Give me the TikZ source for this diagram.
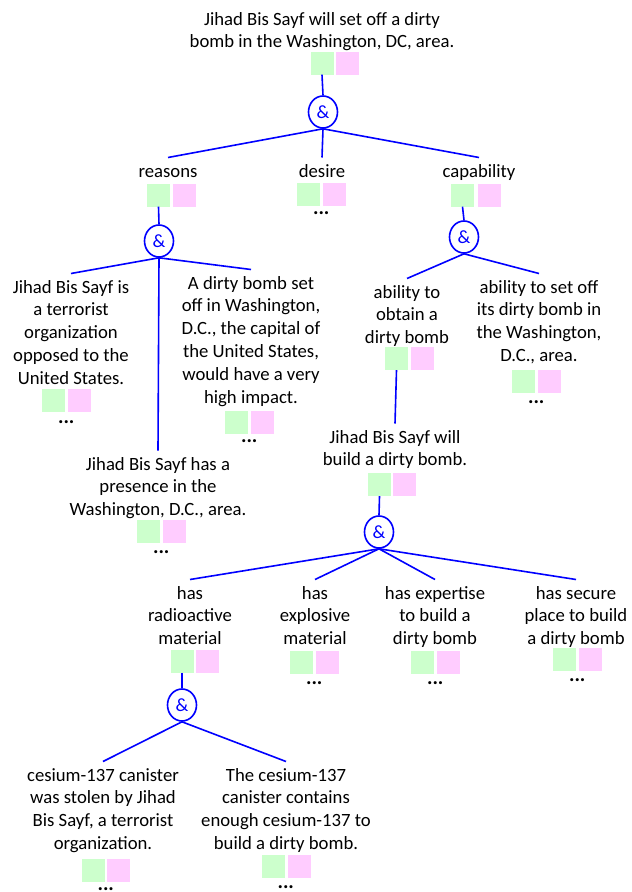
\documentclass[tikz,border=0pt]{standalone}
\usepackage{fontspec}
\setmainfont{Carlito}
\usetikzlibrary{shapes.geometric}
\newcommand\tfs{\fontsize{18.7}{22.8}\selectfont}
\newcommand\dfs{\fontsize{20.5}{22.8}\selectfont}
\definecolor{boxgreen}{RGB}{204,255,204}
\definecolor{boxpink}{RGB}{255,204,255}
\newcommand\mkpair[4]{\node[gbox] (#1G) at (#2,#4) {}; \node[pbox] (#1P) at (#3,#4) {};}
\begin{document}
\begin{tikzpicture}[x=1pt,y=-1pt,
  txt/.style={align=center, anchor=north, inner xsep=0pt, inner ysep=3.5pt, font=\tfs, text=black},
  gbox/.style={fill=boxgreen, minimum width=23pt, minimum height=23pt, inner sep=0pt},
  pbox/.style={fill=boxpink, minimum width=23pt, minimum height=23pt, inner sep=0pt},
  andnode/.style={ellipse, draw=blue, line width=1.6pt, fill=white, text=blue, font=\tfs, minimum width=29pt, minimum height=32pt, inner sep=0pt},
  dotsnode/.style={anchor=base, font=\dfs\bfseries, inner sep=0pt},
  conn/.style={draw=blue, line width=1.6pt}]
\useasboundingbox (0,0) rectangle (632,892);
% text nodes
\node[txt] (top) at (322,5.5) {\strut Jihad Bis Sayf will set off a dirty\\bomb in the Washington, DC, area.};
\node[txt] (reasons) at (168,157.5) {\strut reasons};
\node[txt] (desire) at (322,157.5) {\strut desire};
\node[txt] (capability) at (479,157.5) {\strut capability};
\node[txt] (r1) at (71,273.5) {\strut Jihad Bis Sayf is\\a terrorist\\organization\\opposed to the\\United States.};
\node[txt] (r2) at (251,269.5) {\strut A dirty bomb set\\off in Washington,\\D.C., the capital of\\the United States,\\would have a very\\high impact.};
\node[txt] (r3) at (158,450.5) {\strut Jihad Bis Sayf has a\\presence in the\\Washington, D.C., area.};
\node[txt] (c1) at (407,278.5) {\strut ability to\\obtain a\\dirty bomb};
\node[txt] (c2) at (539,273.5) {\strut ability to set off\\its dirty bomb in\\the Washington,\\D.C., area.};
\node[txt] (build) at (395,423.5) {\strut Jihad Bis Sayf will\\build a dirty bomb.};
\node[txt] (h1) at (190,579.5) {\strut has\\radioactive\\material};
\node[txt] (h2) at (315,579.5) {\strut has\\explosive\\material};
\node[txt] (h3) at (435,579.5) {\strut has expertise\\to build a\\dirty bomb};
\node[txt] (h4) at (576,579.5) {\strut has secure\\place to build\\a dirty bomb};
\node[txt] (s1) at (103,761.5) {\strut cesium-137 canister\\was stolen by Jihad\\Bis Sayf, a terrorist\\organization.};
\node[txt] (s2) at (286,761.5) {\strut The cesium-137\\canister contains\\enough cesium-137 to\\build a dirty bomb.};
% box pairs
\mkpair{top}{322}{347.5}{63}
\mkpair{reasons}{158.5}{184.5}{195}
\mkpair{desire}{308.5}{334.5}{194.5}
\mkpair{capability}{462.5}{489}{195}
\mkpair{rA}{53.5}{79}{400.5}
\mkpair{rB}{236.5}{262}{422.5}
\mkpair{rC}{148.5}{174}{531.5}
\mkpair{cA}{396.5}{422}{358.5}
\mkpair{cB}{523.5}{549.5}{381.5}
\mkpair{build}{379.5}{404.5}{484.5}
\mkpair{hA}{182}{207.5}{661}
\mkpair{hB}{301.5}{327.5}{662.5}
\mkpair{hC}{422.5}{448.5}{662.5}
\mkpair{hD}{564.5}{590.5}{659.5}
\mkpair{sA}{93}{118.5}{870}
\mkpair{sB}{273}{299.5}{866.5}
% dots
\node[dotsnode] (desireD) at (321.25,214.5) {...};
\node[dotsnode] (rAD) at (66.25,423.5) {...};
\node[dotsnode] (rBD) at (249.25,442.5) {...};
\node[dotsnode] (rCD) at (161.25,553.5) {...};
\node[dotsnode] (cBD) at (536.25,403.5) {...};
\node[dotsnode] (hBD) at (314.25,684.5) {...};
\node[dotsnode] (hCD) at (435.25,684.5) {...};
\node[dotsnode] (hDD) at (577.25,681.5) {...};
\node[dotsnode] (sAD) at (105.75,890) {...};
\node[dotsnode] (sBD) at (285.75,888.5) {...};
% and nodes
\node[andnode] (a1) at (323,112) {\&};
\node[andnode] (a2) at (159,241) {\&};
\node[andnode] (a3) at (464,237) {\&};
\node[andnode] (a4) at (379,532) {\&};
\node[andnode] (a5) at (182,705) {\&};
% connectors
\draw[conn] (topG.south) -- (a1.north);
\draw[conn] (a1.south) -- (reasons.north);
\draw[conn] (a1.south) -- (desire.north);
\draw[conn] (a1.south) -- (capability.north);
\draw[conn] (reasonsG.south) -- (a2.north);
\draw[conn] (a2.south) -- (r1.north);
\draw[conn] (a2.south) -- (r2.north);
\draw[conn] (a2.south) -- (r3.north);
\draw[conn] (capabilityG.south) -- (a3.north);
\draw[conn] (a3.south) -- (c1.north);
\draw[conn] (a3.south) -- (c2.north);
\draw[conn] (cAG.south) -- (build.north);
\draw[conn] (buildG.south) -- (a4.north);
\draw[conn] (a4.south) -- (h1.north);
\draw[conn] (a4.south) -- (h2.north);
\draw[conn] (a4.south) -- (h3.north);
\draw[conn] (a4.south) -- (h4.north);
\draw[conn] (hAG.south) -- (a5.north);
\draw[conn] (a5.south) -- (s1.north);
\draw[conn] (a5.south) -- (s2.north);
\end{tikzpicture}
\end{document}
